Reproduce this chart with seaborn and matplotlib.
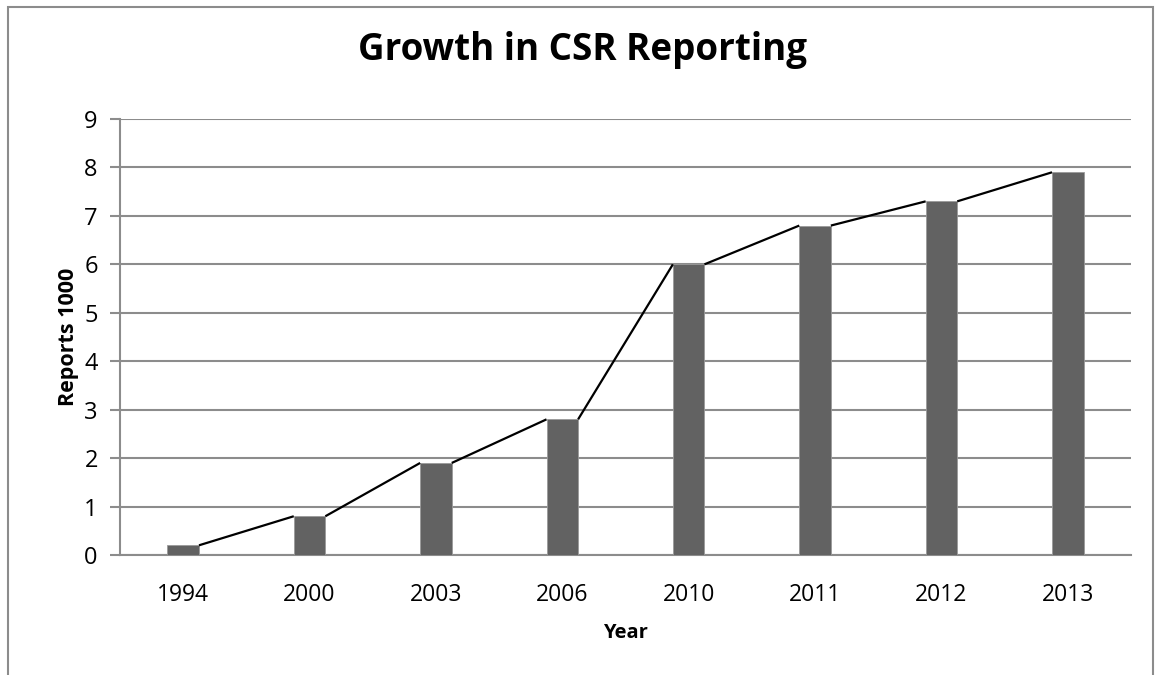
import numpy as np
import pandas as pd
import matplotlib
matplotlib.use("Agg")
import matplotlib.pyplot as plt
from matplotlib.patches import Rectangle
import seaborn as sns

# datos
years = ["1994", "2000", "2003", "2006", "2010", "2011", "2012", "2013"]
reports = [0.2, 0.8, 1.9, 2.8, 6.0, 6.8, 7.3, 7.9]
y_ticks = [0, 1, 2, 3, 4, 5, 6, 7, 8, 9]

df = pd.DataFrame({"year": years, "reports": reports})

sns.set_style("white")
plt.rcParams["font.family"] = ["Open Sans", "DejaVu Sans"]
plt.rcParams["text.color"] = "black"
plt.rcParams["xtick.color"] = "black"
plt.rcParams["ytick.color"] = "black"
plt.rcParams["axes.labelcolor"] = "black"

fig = plt.figure(figsize=(11.62, 6.75), dpi=100)
ax = fig.add_axes([120 / 1162, 1 - 555 / 675, (1131 - 120) / 1162, (555 - 119) / 675])

bar_w = 0.25
sns.barplot(data=df, x="year", y="reports", color="#626262", width=bar_w,
            saturation=1, ax=ax, zorder=3, edgecolor="#9a9a9a", linewidth=0.6)

# lineas de serie (esquina derecha de una barra a esquina izquierda de la siguiente)
for i in range(len(reports) - 1):
    ax.plot([i + bar_w / 2, i + 1 - bar_w / 2], [reports[i], reports[i + 1]],
            color="black", lw=1.6, zorder=4, solid_capstyle="butt")

ax.set_ylim(0, 9)
ax.set_xlim(-0.5, len(years) - 0.5)
ax.set_yticks(y_ticks)
ax.yaxis.grid(True, color="#8c8c8c", lw=1.5, zorder=0)
ax.set_axisbelow(True)
for s in ["top", "right"]:
    ax.spines[s].set_visible(False)
ax.spines["left"].set_color("#8c8c8c")
ax.spines["bottom"].set_color("#8c8c8c")
ax.spines["left"].set_linewidth(1.5)
ax.spines["bottom"].set_linewidth(1.5)
ax.tick_params(axis="y", length=7, width=1.5, color="#8c8c8c", labelcolor="black",
               labelsize=17, pad=9, left=True)
ax.tick_params(axis="x", length=0, labelsize=16.5, labelcolor="black", pad=20)

ax.set_xlabel("Year", fontsize=14.5, fontweight="bold", labelpad=12)
ax.set_ylabel("Reports 1000", fontsize=15.5, fontweight="bold", labelpad=4)

fig.text(583 / 1162, 1 - 50 / 675, "Growth in CSR Reporting", ha="center", va="center",
         fontsize=26.5, fontweight="bold", color="black")

# marco del grafico
fig.patches.append(Rectangle((8 / 1162, -0.1), (1153 - 8) / 1162, 1.1 - 7 / 675,
                             transform=fig.transFigure, fill=False,
                             edgecolor="#8c8c8c", lw=1.5))

fig.savefig("out.png", dpi=100)
